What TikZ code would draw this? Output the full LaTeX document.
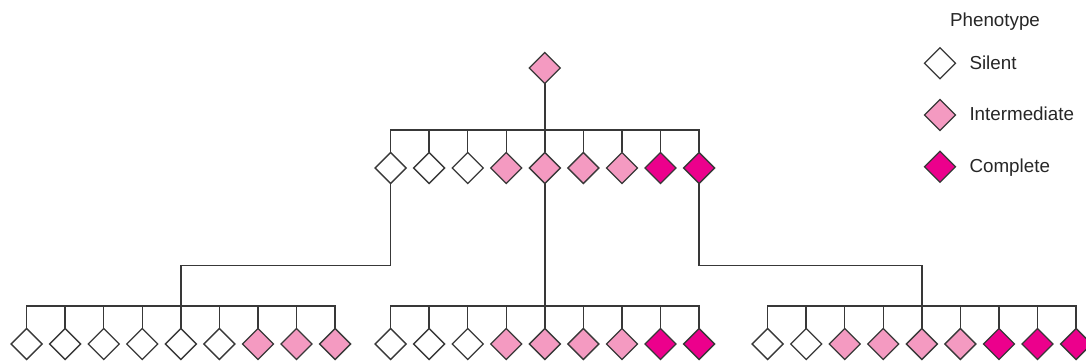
\documentclass[tikz,border=0pt]{standalone}
\usepackage{fontspec}
\setmainfont{Liberation Sans}
\usetikzlibrary{shapes.geometric}
\definecolor{pinkl}{HTML}{F49AC1}
\definecolor{magc}{HTML}{EC008C}
\definecolor{linec}{HTML}{383838}
\tikzset{
  dia/.style={diamond, draw=linec, line width=1.3pt, minimum width=31pt, minimum height=31pt, inner sep=0pt, outer sep=0pt, shape aspect=1},
  conn/.style={draw=linec, line width=1.5pt},
  lab/.style={font=\fontsize{18.8}{21}\selectfont, text=black!85, inner sep=0pt}
}
\begin{document}
\begin{tikzpicture}[x=1pt,y=-1pt]
\useasboundingbox (0,0) rectangle (1086,363);
% levels
\coordinate (bar1) at (0,130);
\coordinate (mid) at (0,265.5);
\coordinate (bar2) at (0,306);
% top
\node[dia, fill=pinkl] (top) at (544.8,68) {};
% row 2
\foreach \c [count=\i] in {white,white,white,pinkl,pinkl,pinkl,pinkl,magc,magc}
  \node[dia, fill=\c] (r\i) at ({390.6+(\i-1)*38.56},168) {};
% bottom left
\foreach \c [count=\i] in {white,white,white,white,white,white,pinkl,pinkl,pinkl}
  \node[dia, fill=\c] (a\i) at ({26.6+(\i-1)*38.56},344) {};
% bottom middle
\foreach \c [count=\i] in {white,white,white,pinkl,pinkl,pinkl,pinkl,magc,magc}
  \node[dia, fill=\c] (b\i) at ({390.6+(\i-1)*38.56},344) {};
% bottom right
\foreach \c [count=\i] in {white,white,pinkl,pinkl,pinkl,pinkl,magc,magc,magc}
  \node[dia, fill=\c] (c\i) at ({767.6+(\i-1)*38.56},344) {};
% connectors top -> row 2
\draw[conn] (top.south) -- (top.south |- bar1);
\draw[conn] (r1.north) -- (r1.north |- bar1) -- (r9.north |- bar1) -- (r9.north);
\foreach \i in {2,...,8} \draw[conn] (r\i.north |- bar1) -- (r\i.north);
% bottom bars
\foreach \g in {a,b,c}{
  \draw[conn] (\g1.north) -- (\g1.north |- bar2) -- (\g9.north |- bar2) -- (\g9.north);
  \foreach \i in {2,...,8} \draw[conn] (\g\i.north |- bar2) -- (\g\i.north);
}
% row 2 -> bottom groups
\draw[conn] (r1.south) |- (a5 |- mid) -- (a5.north |- bar2);
\draw[conn] (r5.south) -- (b5.north |- bar2);
\draw[conn] (r9.south) |- (c5 |- mid) -- (c5.north |- bar2);
% legend
\node[lab, anchor=base] (ltitle) at (995,26.7) {Phenotype};
\node[dia, fill=white] (l1) at (940,63.3) {};
\node[dia, fill=pinkl] (l2) at (940,115) {};
\node[dia, fill=magc] (l3) at (940,166.7) {};
\node[lab, anchor=base west] (t1) at (969.3,69.5) {Silent};
\node[lab, anchor=base west] (t2) at (969.3,121) {Intermediate};
\node[lab, anchor=base west] (t3) at (969.3,172.5) {Complete};
\end{tikzpicture}
\end{document}
